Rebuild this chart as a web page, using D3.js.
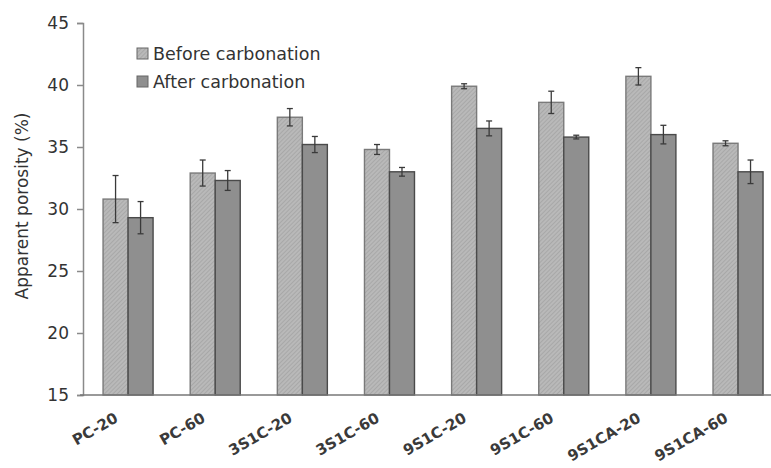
<!DOCTYPE html>
<html>
<head>
<meta charset="utf-8">
<script src="https://cdn.jsdelivr.net/npm/d3@7"></script>
<style>
  html, body { margin: 0; padding: 0; background: #fff; }
  svg { display: block; }
</style>
</head>
<body>
<svg id="chart" width="771" height="468"></svg>
<script>
// Mix designs along the x axis
const categories = ["PC-20", "PC-60", "3S1C-20", "3S1C-60", "9S1C-20", "9S1C-60", "9S1CA-20", "9S1CA-60"];
const seriesNames = ["Before carbonation", "After carbonation"];
// Apparent porosity (%) and standard deviation per mix
const beforeValues = [30.8, 32.9, 37.4, 34.8, 39.9, 38.6, 40.7, 35.3];
const beforeErrors = [1.9, 1.05, 0.7, 0.4, 0.2, 0.9, 0.7, 0.2];
const afterValues  = [29.3, 32.3, 35.2, 33.0, 36.5, 35.8, 36.0, 33.0];
const afterErrors  = [1.3, 0.8, 0.65, 0.35, 0.6, 0.15, 0.75, 0.95];
const yTicks = [15, 20, 25, 30, 35, 40, 45];

const svg = d3.select("#chart");
const W = 771, H = 468;
const font = "'DejaVu Sans', Verdana, sans-serif";

const y = d3.scaleLinear().domain([15, 45]).range([395, 23]);
const x0 = d3.scaleBand().domain(categories).range([84.5, 781.6])
  .paddingInner(0.426).paddingOuter(0.213);
const x1 = d3.scaleBand().domain(seriesNames).range([0, x0.bandwidth()]);

// Hatch fill for the "before" series
const defs = svg.append("defs");
const pat = defs.append("pattern")
  .attr("id", "hatch").attr("patternUnits", "userSpaceOnUse")
  .attr("width", 3).attr("height", 3)
  .attr("patternTransform", "rotate(45)");
pat.append("rect").attr("width", 3).attr("height", 3).attr("fill", "#b9b9b9");
pat.append("line").attr("x1", 0).attr("y1", 0).attr("x2", 0).attr("y2", 3)
  .attr("stroke", "#9c9c9c").attr("stroke-width", 1.2);

const fills = { "Before carbonation": "url(#hatch)", "After carbonation": "#8f8f8f" };

const rows = categories.map((c, i) => ({
  cat: c,
  bars: [
    { series: seriesNames[0], v: beforeValues[i], e: beforeErrors[i] },
    { series: seriesNames[1], v: afterValues[i], e: afterErrors[i] }
  ]
}));

// Bars
const groups = svg.append("g").selectAll("g").data(rows).join("g")
  .attr("transform", d => `translate(${x0(d.cat)},0)`);

groups.selectAll("rect").data(d => d.bars).join("rect")
  .attr("x", d => x1(d.series))
  .attr("y", d => y(d.v))
  .attr("width", x1.bandwidth())
  .attr("height", d => y(15) - y(d.v))
  .attr("fill", d => fills[d.series])
  .attr("stroke", d => d.series === seriesNames[0] ? "#7a7a7a" : "#4a4a4a")
  .attr("stroke-width", 1.4);

// Error bars
const eb = groups.selectAll("g.err").data(d => d.bars).join("g").attr("class", "err")
  .attr("stroke", "#3a3a3a").attr("stroke-width", 1.3);
eb.append("line")
  .attr("x1", d => x1(d.series) + x1.bandwidth() / 2)
  .attr("x2", d => x1(d.series) + x1.bandwidth() / 2)
  .attr("y1", d => y(d.v + d.e)).attr("y2", d => y(d.v - d.e));
eb.append("line")
  .attr("x1", d => x1(d.series) + x1.bandwidth() / 2 - 3)
  .attr("x2", d => x1(d.series) + x1.bandwidth() / 2 + 3)
  .attr("y1", d => y(d.v + d.e)).attr("y2", d => y(d.v + d.e));
eb.append("line")
  .attr("x1", d => x1(d.series) + x1.bandwidth() / 2 - 3)
  .attr("x2", d => x1(d.series) + x1.bandwidth() / 2 + 3)
  .attr("y1", d => y(d.v - d.e)).attr("y2", d => y(d.v - d.e));

// Y axis
const yAxis = svg.append("g").attr("transform", "translate(83,0)")
  .call(d3.axisLeft(y).tickValues(yTicks).tickSize(6).tickPadding(8));
yAxis.select(".domain").attr("stroke", "#8a8a8a").attr("stroke-width", 1.5);
yAxis.selectAll(".tick line").attr("stroke", "#8a8a8a").attr("stroke-width", 1.5);
yAxis.selectAll(".tick text").attr("font-family", font).attr("font-size", 17)
  .attr("fill", "#333");

// X axis: baseline and rotated category labels
const xAxis = svg.append("g").attr("transform", "translate(0,395)")
  .call(d3.axisBottom(x0).tickSize(0).tickPadding(0));
xAxis.select(".domain").remove();
xAxis.append("line").attr("x1", 80).attr("x2", W).attr("y1", 0).attr("y2", 0)
  .attr("stroke", "#777").attr("stroke-width", 1.6);
xAxis.selectAll(".tick text")
  .attr("font-family", font).attr("font-size", 15).attr("font-weight", "bold")
  .attr("fill", "#3a3a3a")
  .attr("text-anchor", "end")
  .attr("x", 0).attr("y", 0).attr("dy", 0)
  .attr("transform", `translate(${x0.bandwidth() / 2 - 34},26) rotate(-30)`);

// Y axis title
svg.append("text")
  .attr("transform", "translate(28,206) rotate(-90)")
  .attr("text-anchor", "middle")
  .attr("font-family", font).attr("font-size", 17).attr("fill", "#333")
  .text("Apparent porosity (%)");

// Legend
const legend = svg.append("g").selectAll("g").data(seriesNames).join("g")
  .attr("transform", (d, i) => `translate(137,${48 + i * 28})`);
legend.append("rect").attr("width", 11).attr("height", 11)
  .attr("fill", d => fills[d])
  .attr("stroke", "#666").attr("stroke-width", 1);
legend.append("text").attr("x", 16).attr("y", 11.5)
  .attr("font-family", font).attr("font-size", 17.5).attr("fill", "#333")
  .text(d => d);
</script>
</body>
</html>
